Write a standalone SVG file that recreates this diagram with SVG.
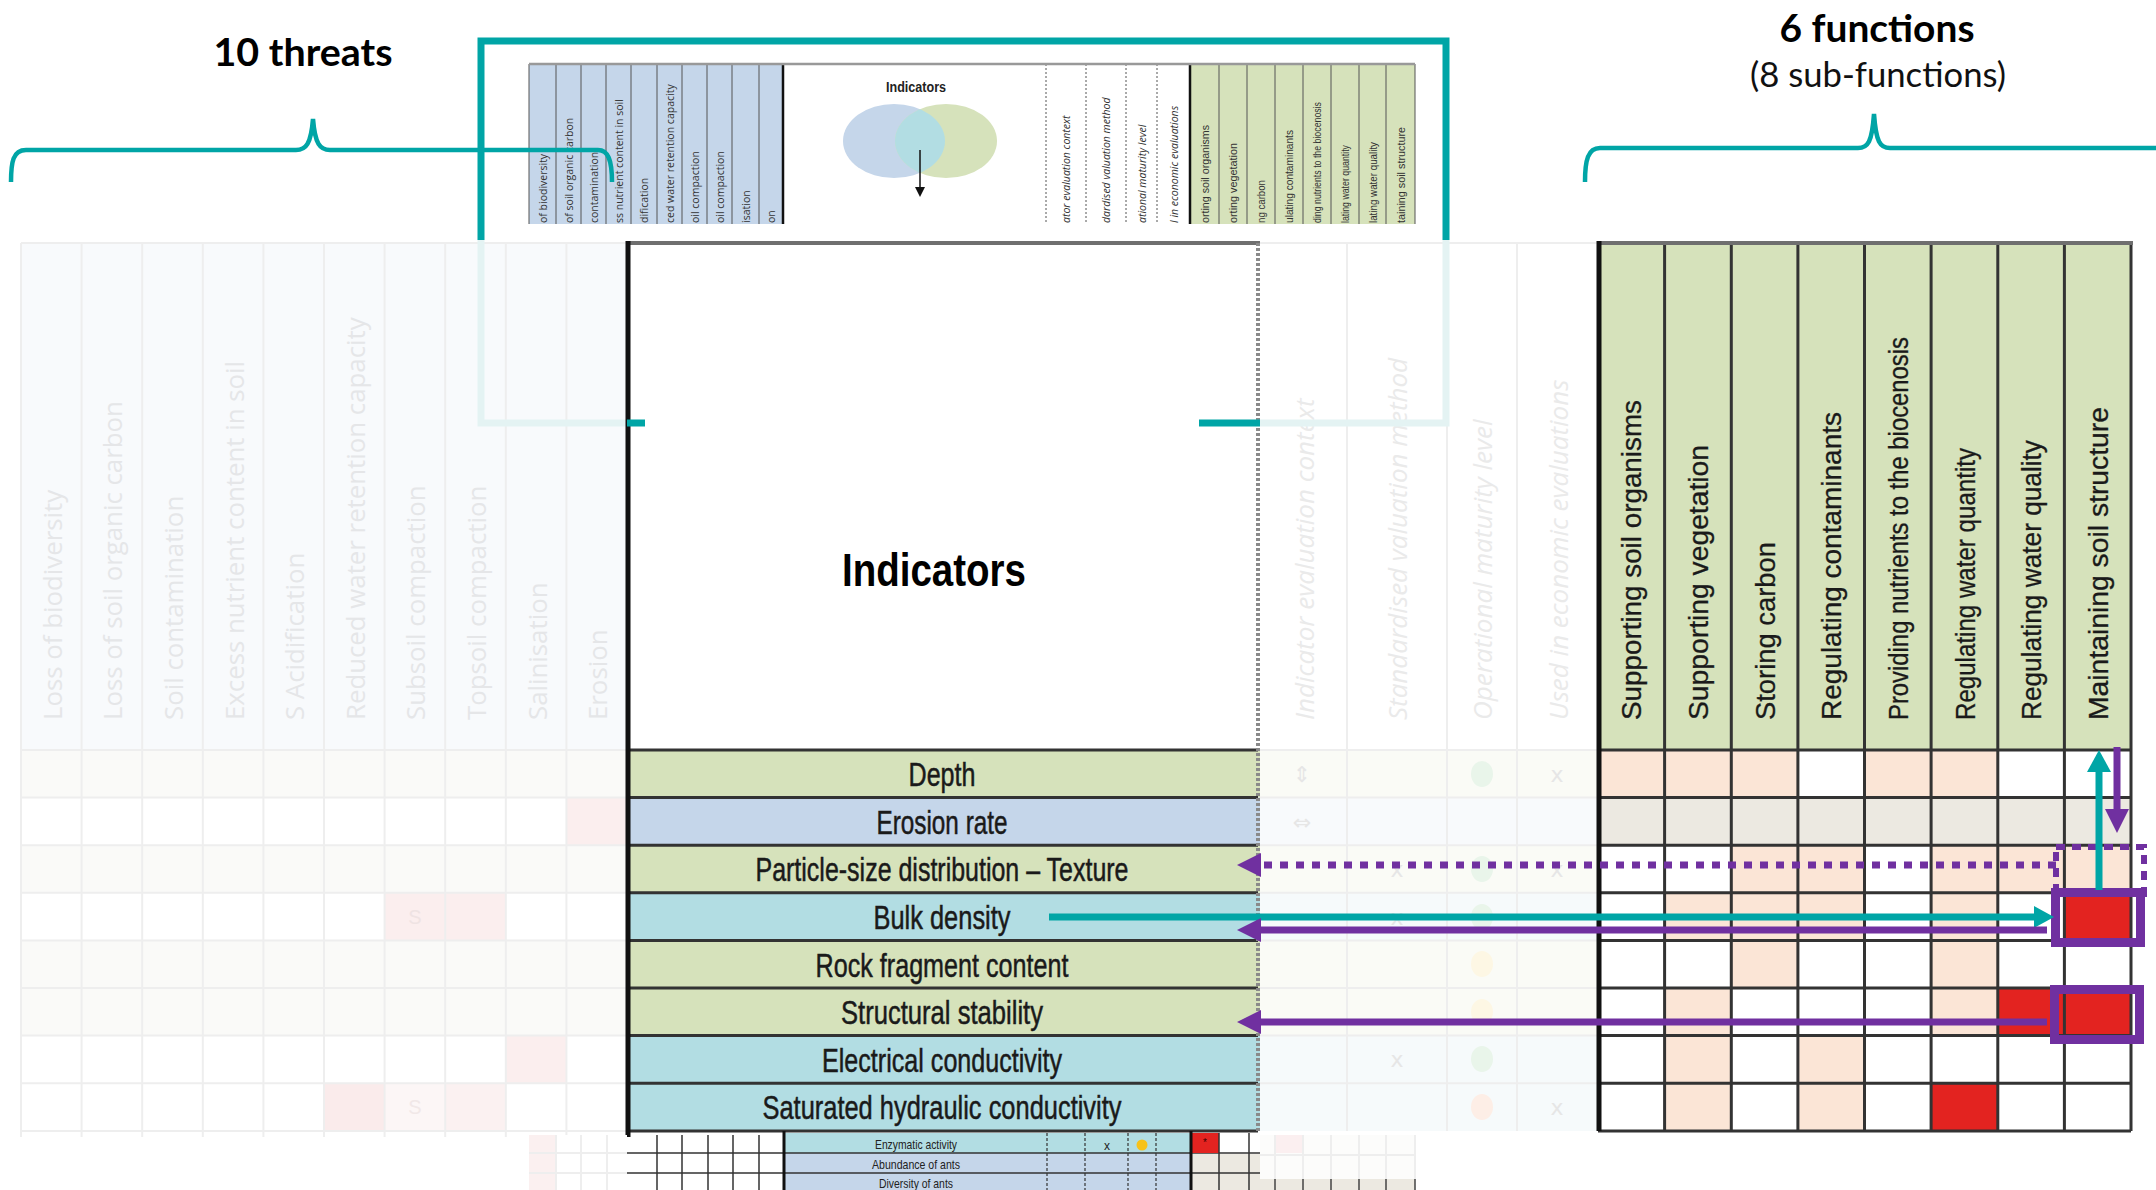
<svg xmlns="http://www.w3.org/2000/svg" width="2156" height="1190" viewBox="0 0 2156 1190">
<defs>
<style>
text{font-family:"Liberation Sans",Arial,sans-serif}
.ft{font-family:"Open Sans","Liberation Sans",sans-serif;font-size:25.8px;fill:#e5e6e8}
.fm{font-family:"Open Sans","Liberation Sans",sans-serif;font-size:26px;font-style:italic;fill:#eaeaea}
.fn{font-family:"Liberation Sans Narrow","Liberation Sans",sans-serif;font-size:27px;fill:#1a1a1a;stroke:#1a1a1a;stroke-width:0.3}
.il{font-family:"Liberation Sans Narrow","Liberation Sans",sans-serif;font-size:33px;fill:#1a1a1a;stroke:#1a1a1a;stroke-width:0.5;text-anchor:middle}
.hd{font-family:Lato,"Liberation Sans",sans-serif;font-weight:bold;font-size:38px;fill:#000;text-anchor:middle}
.sub{font-family:Lato,"Liberation Sans",sans-serif;font-size:34px;fill:#111;text-anchor:middle}
.it{font-family:"Open Sans","Liberation Sans",sans-serif;font-size:10.5px;fill:#333}
.iti{font-family:"Open Sans","Liberation Sans",sans-serif;font-size:10.5px;font-style:italic;fill:#333}
.itc{font-family:"Liberation Sans Narrow","Liberation Sans",sans-serif;font-size:10.5px;fill:#333}
.bs{font-family:"Liberation Sans Narrow","Liberation Sans",sans-serif;font-size:13px;fill:#222;text-anchor:middle}
.grid{stroke:#333;stroke-width:3;fill:none}
.fgrid{stroke:#eeeeee;stroke-width:2;fill:none}
.pk{fill:#fbe5d6}
.rd{fill:#e32320}
.bg{fill:#ece9e1}
.gr{fill:#d6e2bb}
.bl{fill:#c5d6ea}
.tl{fill:#b2dde3}
.mk{font-family:"DejaVu Sans",sans-serif;font-size:22px;fill:#e6e6e6;text-anchor:middle}
.teal{stroke:#00a5a6;fill:none}
.ftl{stroke:#e4f3f3;fill:none}
.pa{stroke:#7030a0;stroke-width:7;fill:none}
.ta{stroke:#00a5a6;stroke-width:7;fill:none}
</style>
<marker id="mP" markerUnits="userSpaceOnUse" markerWidth="24" markerHeight="24" refX="8" refY="12" orient="auto"><path d="M0,0 L24,12 L0,24 Z" fill="#7030a0"/></marker>
<marker id="mT" markerUnits="userSpaceOnUse" markerWidth="20" markerHeight="22" refX="6" refY="11" orient="auto"><path d="M0,0 L20,11 L0,22 Z" fill="#00a5a6"/></marker>
<marker id="mTu" markerUnits="userSpaceOnUse" markerWidth="22" markerHeight="24" refX="6" refY="12" orient="auto"><path d="M0,0 L22,12 L0,24 Z" fill="#00a5a6"/></marker>
<marker id="mK" markerUnits="userSpaceOnUse" markerWidth="10" markerHeight="10" refX="3" refY="5" orient="auto"><path d="M0,0 L10,5 L0,10 Z" fill="#111"/></marker>
<clipPath id="cpBlue"><ellipse cx="894" cy="141" rx="51" ry="37"/></clipPath>
</defs>
<rect x="0" y="0" width="2156" height="1190" fill="#fff"/>

<!-- headings -->
<g id="title-threats"><text class="hd" x="303" y="66" textLength="179" lengthAdjust="spacingAndGlyphs">10 threats</text></g>
<g id="title-functions">
<text class="hd" x="1877" y="42" textLength="195" lengthAdjust="spacingAndGlyphs">6 functions</text>
<text class="sub" x="1878" y="87" textLength="256" lengthAdjust="spacingAndGlyphs">(8 sub-functions)</text>
</g>

<!-- inset: original table thumbnail -->
<g id="inset">
<rect x="529" y="64" width="886" height="160" fill="#fff"/>
<rect x="529" y="64" width="254" height="160" class="bl"/>
<rect x="1190" y="64" width="225" height="160" class="gr"/>
<g stroke="#555" stroke-width="1">
<path d="M529,64V224M556,64V224M581,64V224M606,64V224M631,64V224M657,64V224M682,64V224M707,64V224M732,64V224M759,64V224"/>
<path d="M1219,64V224M1247,64V224M1275,64V224M1303,64V224M1331,64V224M1359,64V224M1386,64V224M1415,64V224"/>
<path d="M1046,64V224M1086,64V224M1126,64V224M1157,64V224" stroke-dasharray="2 2"/>
</g>
<path d="M783,64V224M1190,64V224" stroke="#111" stroke-width="2.5"/>
<path d="M529,64H1415" stroke="#999" stroke-width="2.5"/>
<text class="it" transform="rotate(-90 546.5 223)" x="546.5" y="223">of biodiversity</text>
<text class="it" transform="rotate(-90 572.5 223)" x="572.5" y="223">of soil organic carbon</text>
<text class="it" transform="rotate(-90 597.5 223)" x="597.5" y="223">contamination</text>
<text class="it" transform="rotate(-90 622.5 223)" x="622.5" y="223">ss nutrient content in soil</text>
<text class="it" transform="rotate(-90 648 223)" x="648" y="223">dification</text>
<text class="it" transform="rotate(-90 673.5 223)" x="673.5" y="223">ced water retention capacity</text>
<text class="it" transform="rotate(-90 698.5 223)" x="698.5" y="223">oil compaction</text>
<text class="it" transform="rotate(-90 723.5 223)" x="723.5" y="223">oil compaction</text>
<text class="it" transform="rotate(-90 749.5 223)" x="749.5" y="223">isation</text>
<text class="it" transform="rotate(-90 774.5 223)" x="774.5" y="223">on</text>
<text x="916" y="92" text-anchor="middle" font-weight="bold" font-size="14" fill="#222" textLength="60" lengthAdjust="spacingAndGlyphs">Indicators</text>
<ellipse cx="894" cy="141" rx="51" ry="37" class="bl"/>
<ellipse cx="946" cy="141" rx="51" ry="37" class="gr"/>
<ellipse cx="946" cy="141" rx="51" ry="37" class="tl" clip-path="url(#cpBlue)"/>
<path d="M920,150V190" stroke="#111" stroke-width="1.5" marker-end="url(#mK)"/>
<text class="iti" transform="rotate(-90 1070 223)" x="1070" y="223">ator evaluation context</text>
<text class="iti" transform="rotate(-90 1110 223)" x="1110" y="223">dardised valuation method</text>
<text class="iti" transform="rotate(-90 1145.5 223)" x="1145.5" y="223">ational maturity level</text>
<text class="iti" transform="rotate(-90 1177.5 223)" x="1177.5" y="223">l in economic evaluations</text>
<text class="itc" transform="rotate(-90 1208.5 223)" x="1208.5" y="223" textLength="98" lengthAdjust="spacingAndGlyphs">orting soil organisms</text>
<text class="itc" transform="rotate(-90 1237 223)" x="1237" y="223" textLength="80" lengthAdjust="spacingAndGlyphs">orting vegetation</text>
<text class="itc" transform="rotate(-90 1265 223)" x="1265" y="223" textLength="43" lengthAdjust="spacingAndGlyphs">ng carbon</text>
<text class="itc" transform="rotate(-90 1293 223)" x="1293" y="223" textLength="93" lengthAdjust="spacingAndGlyphs">ulating contaminants</text>
<text class="itc" transform="rotate(-90 1321 223)" x="1321" y="223" textLength="121" lengthAdjust="spacingAndGlyphs">ding nutrients to the biocenosis</text>
<text class="itc" transform="rotate(-90 1349 223)" x="1349" y="223" textLength="78" lengthAdjust="spacingAndGlyphs">lating water quantity</text>
<text class="itc" transform="rotate(-90 1376.5 223)" x="1376.5" y="223" textLength="81" lengthAdjust="spacingAndGlyphs">lating water quality</text>
<text class="itc" transform="rotate(-90 1404.5 223)" x="1404.5" y="223" textLength="96" lengthAdjust="spacingAndGlyphs">taining soil structure</text>
</g>

<!-- teal frame around inset -->
<g id="inset-frame">
<path class="teal" stroke-width="7" d="M481,240V41H1446V240"/>
</g>

<!-- braces -->
<g id="braces">
<path class="teal" stroke-width="4.5" d="M11,182C11,162 13,150 26,150L296,150C306,150 311,144 313,119C315,144 320,150 330,150L598,150C608,150 612,160 612,182"/>
<path class="teal" stroke-width="4.5" d="M1585,182C1585,160 1588,148 1600,148L1858,148C1868,148 1872,142 1874,114C1876,142 1880,148 1890,148L2160,148"/>
</g>

<!-- faded threats table -->
<g id="threats-table">
<rect x="21" y="243" width="606" height="507" fill="#f8fafc"/>
<rect x="21" y="750" width="606" height="47.6" fill="#fafaf8"/>
<rect x="21" y="845.2" width="606" height="47.6" fill="#fafaf8"/>
<rect x="21" y="940.4" width="606" height="95.2" fill="#fafaf8"/>
<rect x="566.4" y="797.6" width="60.6" height="47.6" fill="#fbeeee"/>
<rect x="384.6" y="892.8" width="121.2" height="47.6" fill="#fbeeee"/>
<rect x="505.8" y="1035.6" width="60.6" height="47.6" fill="#fbeeee"/>
<rect x="324" y="1083.2" width="60.6" height="47.6" fill="#faebeb"/>
<rect x="384.6" y="1083.2" width="60.6" height="47.6" fill="#fcf6f6"/>
<rect x="445.2" y="1083.2" width="60.6" height="47.6" fill="#fbf1f1"/>
<path class="fgrid" d="M21,243V1137M81.6,243V1137M142.2,243V1137M202.8,243V1137M263.4,243V1137M324,243V1137M384.6,243V1137M445.2,243V1137M505.8,243V1137M566.4,243V1137"/>
<path class="fgrid" stroke-width="3" d="M21,243H627M21,750H627M21,797.6H627M21,845.2H627M21,892.8H627M21,940.4H627M21,988H627M21,1035.6H627M21,1083.2H627M21,1131H627"/>
<text x="415" y="924" text-anchor="middle" font-size="20" fill="#efe3e3">S</text>
<text x="415" y="1114" text-anchor="middle" font-size="20" fill="#f1e8e8">S</text>
<text class="ft" transform="rotate(-90 61.8 720)" x="61.8" y="720">Loss of biodiversity</text>
<text class="ft" transform="rotate(-90 122.4 720)" x="122.4" y="720">Loss of soil organic carbon</text>
<text class="ft" transform="rotate(-90 183 720)" x="183" y="720">Soil contamination</text>
<text class="ft" transform="rotate(-90 243.6 720)" x="243.6" y="720">Excess nutrient content in soil</text>
<text class="ft" transform="rotate(-90 304.2 720)" x="304.2" y="720">S Acidification</text>
<text class="ft" transform="rotate(-90 364.8 720)" x="364.8" y="720">Reduced water retention capacity</text>
<text class="ft" transform="rotate(-90 425.4 720)" x="425.4" y="720">Subsoil compaction</text>
<text class="ft" transform="rotate(-90 486 720)" x="486" y="720">Topsoil compaction</text>
<text class="ft" transform="rotate(-90 546.6 720)" x="546.6" y="720">Salinisation</text>
<text class="ft" transform="rotate(-90 607.2 720)" x="607.2" y="720">Erosion</text>
</g>

<!-- faded evaluation columns -->
<g id="evaluation-columns">
<rect x="1260" y="243" width="338" height="507" fill="#fff"/>
<rect x="1260" y="750" width="338" height="47.6" fill="#fafbf6"/>
<rect x="1260" y="797.6" width="338" height="47.6" fill="#f8fafc"/>
<rect x="1260" y="845.2" width="338" height="47.6" fill="#fafbf6"/>
<rect x="1260" y="892.8" width="338" height="47.6" fill="#f6fafb"/>
<rect x="1260" y="940.4" width="338" height="95.2" fill="#fafbf6"/>
<rect x="1260" y="1035.6" width="338" height="95.4" fill="#f6fafb"/>
<path class="fgrid" d="M1347,243V1131M1447,243V1131M1517,243V1131"/>
<path class="fgrid" stroke-width="3" d="M1260,243H1598M1260,750H1598M1260,797.6H1598M1260,845.2H1598M1260,892.8H1598M1260,940.4H1598M1260,988H1598M1260,1035.6H1598M1260,1083.2H1598"/>
<text class="fm" transform="rotate(-90 1313.5 720)" x="1313.5" y="720">Indicator evaluation context</text>
<text class="fm" transform="rotate(-90 1407 720)" x="1407" y="720">Standardised valuation method</text>
<text class="fm" transform="rotate(-90 1492 720)" x="1492" y="720">Operational maturity level</text>
<text class="fm" transform="rotate(-90 1567.5 720)" x="1567.5" y="720">Used in economic evaluations</text>
<text class="mk" x="1302" y="782" font-size="26">⇕</text>
<text class="mk" x="1302" y="830" font-size="26">⇔</text>
<ellipse cx="1482" cy="774" rx="11" ry="13" fill="#e9f5ea"/>
<ellipse cx="1482" cy="869" rx="11" ry="13" fill="#e9f5ea"/>
<ellipse cx="1482" cy="917" rx="11" ry="13" fill="#e9f5ea"/>
<ellipse cx="1482" cy="964" rx="11" ry="13" fill="#fdf7e4"/>
<ellipse cx="1482" cy="1012" rx="11" ry="13" fill="#fdf7e4"/>
<ellipse cx="1482" cy="1059" rx="11" ry="13" fill="#e9f5ea"/>
<ellipse cx="1482" cy="1107" rx="11" ry="13" fill="#fdeee6"/>
<text class="mk" x="1557" y="782">x</text>
<text class="mk" x="1397" y="877">x</text>
<text class="mk" x="1557" y="877">x</text>
<text class="mk" x="1397" y="925">x</text>
<text class="mk" x="1397" y="1067">x</text>
<text class="mk" x="1557" y="1115">x</text>
</g>

<!-- faded teal frame parts -->
<g id="frame-faded">
<path class="ftl" stroke-width="7" d="M481,240V423H627M1260,423H1446V240"/>
</g>

<!-- indicators column -->
<g id="indicators">
<rect x="627" y="243" width="633" height="507" fill="#fff"/>
<rect x="627" y="750" width="633" height="47.6" class="gr"/>
<rect x="627" y="797.6" width="633" height="47.6" class="bl"/>
<rect x="627" y="845.2" width="633" height="47.6" class="gr"/>
<rect x="627" y="892.8" width="633" height="47.6" class="tl"/>
<rect x="627" y="940.4" width="633" height="95.2" class="gr"/>
<rect x="627" y="1035.6" width="633" height="95.4" class="tl"/>
<path class="grid" d="M627,750H1258M627,797.6H1258M627,845.2H1258M627,892.8H1258M627,940.4H1258M627,988H1258M627,1035.6H1258M627,1083.2H1258M627,1131H1258"/>
<path d="M627,243H1260" stroke="#6f6f6f" stroke-width="4"/>
<path d="M1258,243V1131" stroke="#8a8a8a" stroke-width="4" stroke-dasharray="3 2"/>
<path d="M628,241V1137" stroke="#111" stroke-width="5"/>
<text x="934" y="586" text-anchor="middle" font-weight="bold" font-size="47" fill="#000" textLength="184" lengthAdjust="spacingAndGlyphs">Indicators</text>
<text class="il" x="942" y="786" textLength="67" lengthAdjust="spacingAndGlyphs">Depth</text>
<text class="il" x="942" y="834" textLength="131" lengthAdjust="spacingAndGlyphs">Erosion rate</text>
<text class="il" x="942" y="881" textLength="373" lengthAdjust="spacingAndGlyphs">Particle-size distribution – Texture</text>
<text class="il" x="942" y="929" textLength="137" lengthAdjust="spacingAndGlyphs">Bulk density</text>
<text class="il" x="942" y="977" textLength="253" lengthAdjust="spacingAndGlyphs">Rock fragment content</text>
<text class="il" x="942" y="1024" textLength="202" lengthAdjust="spacingAndGlyphs">Structural stability</text>
<text class="il" x="942" y="1072" textLength="240" lengthAdjust="spacingAndGlyphs">Electrical conductivity</text>
<text class="il" x="942" y="1119" textLength="359" lengthAdjust="spacingAndGlyphs">Saturated hydraulic conductivity</text>
</g>

<!-- teal frame stubs visible over indicators -->
<g id="frame-stubs">
<path class="teal" stroke-width="7" d="M627,423H645M1199,423H1260"/>
</g>

<!-- functions table -->
<g id="functions">
<rect x="1598" y="243" width="533" height="507" class="gr"/>
<rect x="1598" y="750" width="533" height="381" fill="#fff"/>
<rect x="1598" y="750" width="199.9" height="47.6" class="pk"/>
<rect x="1864.5" y="750" width="133.3" height="47.6" class="pk"/>
<rect x="1598" y="797.6" width="533" height="47.6" class="bg"/>
<rect x="1731.3" y="845.2" width="133.2" height="47.6" class="pk"/>
<rect x="1931.1" y="845.2" width="199.9" height="47.6" class="pk"/>
<rect x="1664.6" y="892.8" width="199.9" height="47.6" class="pk"/>
<rect x="1931.1" y="892.8" width="66.7" height="47.6" class="pk"/>
<rect x="2064.4" y="892.8" width="66.6" height="47.6" class="rd"/>
<rect x="1731.3" y="940.4" width="66.6" height="47.6" class="pk"/>
<rect x="1931.1" y="940.4" width="66.7" height="47.6" class="pk"/>
<rect x="1664.6" y="988" width="66.7" height="47.6" class="pk"/>
<rect x="1931.1" y="988" width="66.7" height="47.6" class="pk"/>
<rect x="1997.8" y="988" width="133.2" height="47.6" class="rd"/>
<rect x="1664.6" y="1035.6" width="66.7" height="47.6" class="pk"/>
<rect x="1797.9" y="1035.6" width="66.6" height="47.6" class="pk"/>
<rect x="1664.6" y="1083.2" width="66.7" height="47.8" class="pk"/>
<rect x="1797.9" y="1083.2" width="66.6" height="47.8" class="pk"/>
<rect x="1931.1" y="1083.2" width="66.7" height="47.8" class="rd"/>
<path class="grid" d="M1664.6,243V1131M1731.3,243V1131M1797.9,243V1131M1864.5,243V1131M1931.1,243V1131M1997.8,243V1131M2064.4,243V1131M2131,243V1131"/>
<path class="grid" d="M1598,750H2131M1598,797.6H2131M1598,845.2H2131M1598,892.8H2131M1598,940.4H2131M1598,988H2131M1598,1035.6H2131M1598,1083.2H2131M1598,1131H2131"/>
<path d="M1598,243H2133" stroke="#6f6f6f" stroke-width="4"/>
<path d="M1599,241V1131" stroke="#111" stroke-width="5"/>
<text class="fn" transform="rotate(-90 1641.3 720)" x="1641.3" y="720" textLength="320" lengthAdjust="spacingAndGlyphs">Supporting soil organisms</text>
<text class="fn" transform="rotate(-90 1708 720)" x="1708" y="720" textLength="275" lengthAdjust="spacingAndGlyphs">Supporting vegetation</text>
<text class="fn" transform="rotate(-90 1774.6 720)" x="1774.6" y="720" textLength="178" lengthAdjust="spacingAndGlyphs">Storing carbon</text>
<text class="fn" transform="rotate(-90 1841.2 720)" x="1841.2" y="720" textLength="308" lengthAdjust="spacingAndGlyphs">Regulating contaminants</text>
<text class="fn" transform="rotate(-90 1907.8 720)" x="1907.8" y="720" textLength="383" lengthAdjust="spacingAndGlyphs">Providing nutrients to the biocenosis</text>
<text class="fn" transform="rotate(-90 1974.5 720)" x="1974.5" y="720" textLength="272" lengthAdjust="spacingAndGlyphs">Regulating water quantity</text>
<text class="fn" transform="rotate(-90 2041.1 720)" x="2041.1" y="720" textLength="280" lengthAdjust="spacingAndGlyphs">Regulating water quality</text>
<text class="fn" transform="rotate(-90 2107.7 720)" x="2107.7" y="720" textLength="313" lengthAdjust="spacingAndGlyphs">Maintaining soil structure</text>
</g>

<!-- bottom strip of the original table -->
<g id="bottom-strip">
<rect x="529" y="1135" width="98" height="55" fill="#fff"/>
<rect x="529" y="1135" width="27" height="55" fill="#fbf0f0"/>
<path class="fgrid" d="M556,1135V1190M581,1135V1190M607,1135V1190M529,1153H627M529,1173H627"/>
<rect x="783" y="1133" width="408" height="20" class="tl"/>
<rect x="783" y="1153" width="408" height="37" class="bl"/>
<path d="M657,1135V1190M682,1135V1190M708,1135V1190M733,1135V1190M759,1135V1190M627,1153H1260M627,1173H1260" stroke="#333" stroke-width="1.5"/>
<path d="M1047,1133V1190M1085,1133V1190M1128,1133V1190M1156,1133V1190" stroke="#333" stroke-width="1.2" stroke-dasharray="3 2"/>
<rect x="1191" y="1133" width="28" height="20" class="rd"/>
<rect x="1191" y="1154" width="69" height="36" class="bg"/>
<path d="M1219,1133V1190M1249,1133V1190M1191,1173H1260" stroke="#333" stroke-width="1.5"/>
<path d="M784,1131V1190M1191,1131V1190" stroke="#111" stroke-width="3"/>
<text class="bs" x="916" y="1149" textLength="82" lengthAdjust="spacingAndGlyphs">Enzymatic activity</text>
<text class="bs" x="916" y="1169" textLength="88" lengthAdjust="spacingAndGlyphs">Abundance of ants</text>
<text class="bs" x="916" y="1188" textLength="74" lengthAdjust="spacingAndGlyphs">Diversity of ants</text>
<text x="1107" y="1150" text-anchor="middle" font-size="12" fill="#222">x</text>
<circle cx="1142" cy="1145" r="5.5" fill="#f7c21a"/>
<text x="1205" y="1146" text-anchor="middle" font-size="10" fill="#400">*</text>
<rect x="1260" y="1135" width="155" height="44" fill="#fcfcfb"/>
<rect x="1275" y="1135" width="28" height="18" fill="#fbeff0"/>
<path class="fgrid" d="M1275,1135V1179M1303,1135V1179M1331,1135V1179M1359,1135V1179M1386,1135V1179M1415,1135V1179M1260,1155H1415"/>
<rect x="1260" y="1179" width="155" height="11" class="bg"/>
<path d="M1275,1179V1190M1303,1179V1190M1331,1179V1190M1359,1179V1190M1386,1179V1190M1415,1179V1190" stroke="#444" stroke-width="1.5"/>
</g>

<!-- connectors -->
<g id="connectors">
<rect x="2056" y="847" width="88" height="47" fill="none" stroke="#7030a0" stroke-width="6" stroke-dasharray="9 7"/>
<rect x="2055.5" y="892.5" width="85" height="50" fill="none" stroke="#7030a0" stroke-width="9"/>
<rect x="2054.5" y="989.5" width="85" height="50" fill="none" stroke="#7030a0" stroke-width="9"/>
<path class="pa" d="M2056,865H1253" stroke-dasharray="8 8" marker-end="url(#mP)"/>
<path class="ta" d="M1049,917H2040" marker-end="url(#mT)"/>
<path class="pa" d="M2047,930H1253" marker-end="url(#mP)"/>
<path class="pa" d="M2047,1022H1253" marker-end="url(#mP)"/>
<path class="ta" d="M2099,890V766" marker-end="url(#mTu)"/>
<path class="pa" d="M2117,747V817" marker-end="url(#mP)"/>
</g>
</svg>
